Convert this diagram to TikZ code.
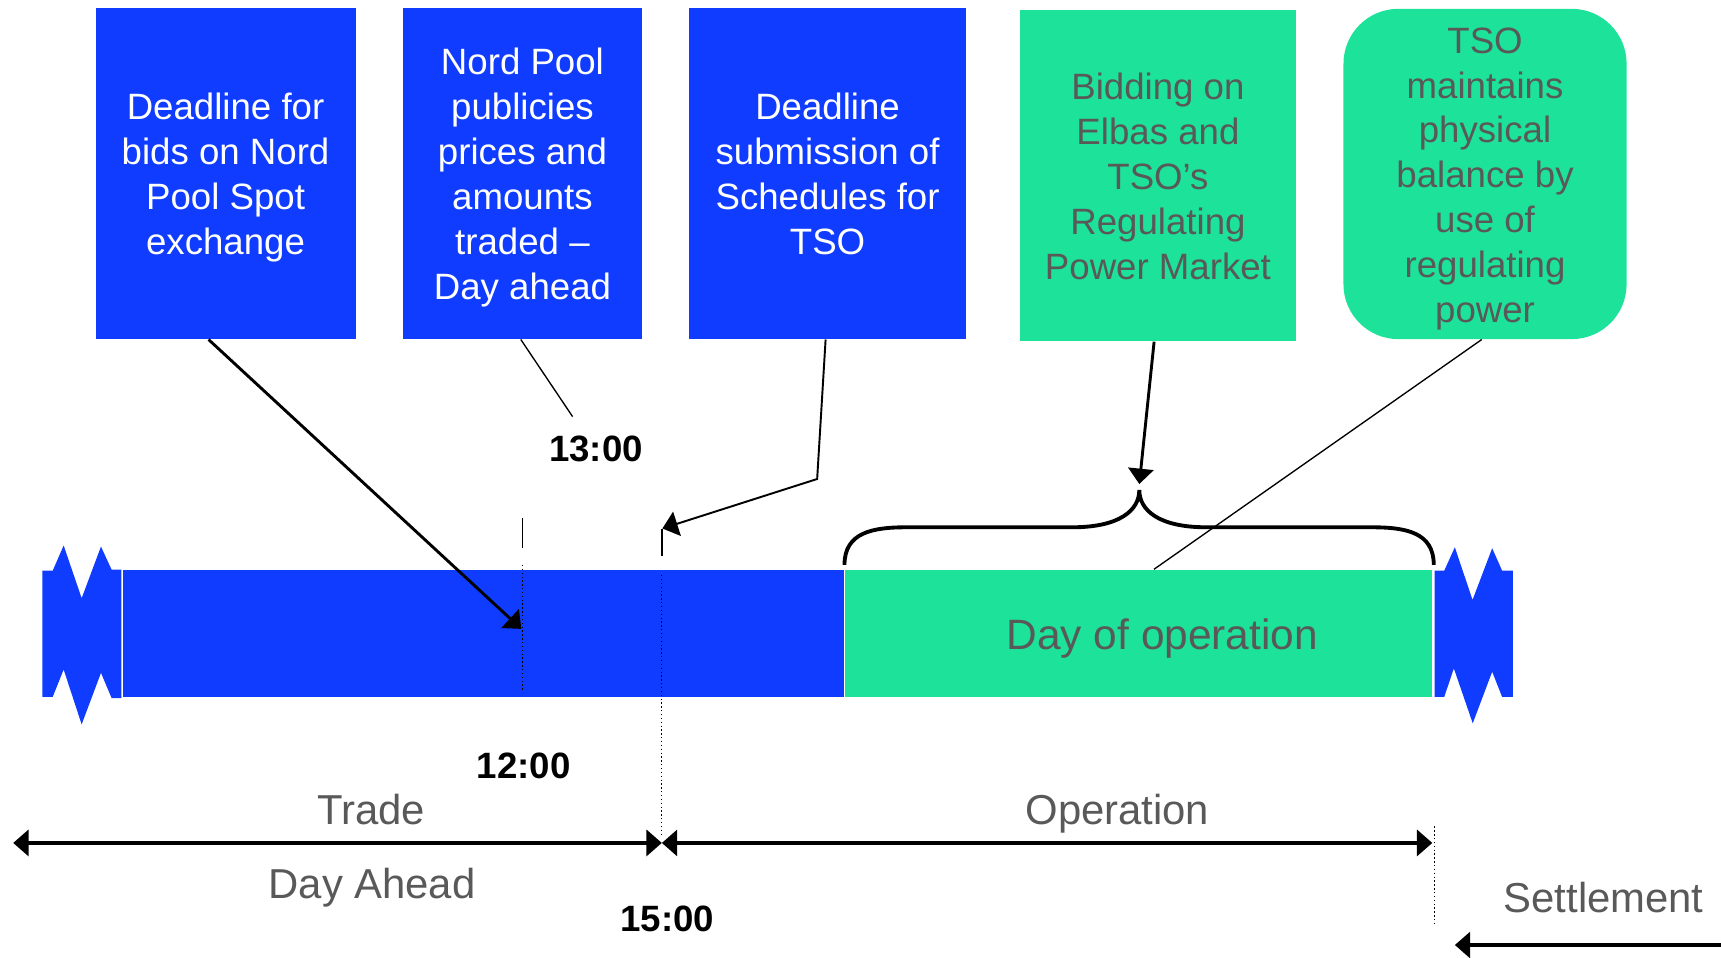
\documentclass[tikz,border=0pt]{standalone}
\usepackage{fontspec}
\setmainfont{Liberation Sans}
\usetikzlibrary{arrows.meta}
\definecolor{barblue}{HTML}{0F3CFF}
\definecolor{bargreen}{HTML}{1DE29A}
\definecolor{txtgray}{HTML}{595959}
\newcommand\mytopstrut{\rule{0pt}{21.4pt}}
\begin{document}
\begin{tikzpicture}[x=0.02cm,y=-0.02cm,
  boxtext/.style={font=\fontsize{19}{23.3}\selectfont, align=center, inner sep=0pt},
  bluebox/.style={boxtext, fill=barblue, text=white, minimum height=6.04cm},
  greenbox/.style={boxtext, fill=bargreen, text=txtgray, minimum height=6.04cm},
  barpiece/.style={inner sep=0pt, minimum height=2.32cm},
  thickarrow/.style={line width=1.5pt, -{Triangle[length=0.28cm,width=0.46cm]}},
  thinline/.style={line width=0.7pt},
  tickline/.style={line width=0.9pt},
  dotline/.style={line width=0.5pt, dash pattern=on 0.7pt off 1.3pt},
  timelabel/.style={font=\bfseries\fontsize{19}{22}\selectfont, inner sep=0pt},
  graylabel/.style={font=\fontsize{21.7}{26}\selectfont, text=txtgray, inner sep=0pt},
  spanarrow/.style={line width=2pt, {Triangle[length=0.28cm,width=0.47cm]}-{Triangle[length=0.28cm,width=0.47cm]}},
  settlearrow/.style={line width=2pt, -{Triangle[length=0.28cm,width=0.47cm]}},
  bracestyle/.style={line width=2pt}
]
\useasboundingbox (0,0) rectangle (1568,872);

% top boxes
\node[bluebox, minimum width=4.74cm] (b1) at (205.5,158) {\mytopstrut Deadline for\\bids on Nord\\Pool Spot\\exchange\strut};
\node[bluebox, minimum width=4.36cm] (b2) at (476,158) {\mytopstrut Nord Pool\\publicies\\prices and\\amounts\\traded –\\Day ahead\strut};
\node[bluebox, minimum width=5.04cm] (b3) at (754,158) {\mytopstrut Deadline\\submission of\\Schedules for\\TSO\strut};
\node[greenbox, minimum width=5.04cm] (b4) at (1055,160) {\mytopstrut Bidding on\\Elbas and\\TSO’s\\Regulating\\Power Market\strut};
\node[greenbox, minimum width=5.16cm, minimum height=6.02cm, rounded corners=1cm] (b5) at (1353,158.5) {\mytopstrut TSO\\maintains\\physical\\balance by\\use of\\regulating\\power\strut};

% time bar
\fill[barblue] (38.6,520) -- (48,520) -- (58,497) -- (74.4,545) -- (92,498) -- (101.7,519) -- (110.6,519) -- (110.6,636) -- (101.7,636) -- (92,613) -- (74.4,660) -- (58,610) -- (48,635) -- (38.6,635) -- cycle;
\node[barpiece, fill=barblue, minimum width=13.14cm] (dah) at (440.5,577) {};
\node[barpiece, fill=bargreen, minimum width=10.7cm] (dop) at (1037.5,577) {};
\fill[barblue] (1307,520) -- (1315.8,520) -- (1325.5,498.6) -- (1341.6,546.6) -- (1359.5,499.5) -- (1368.6,520) -- (1378.3,520) -- (1378.3,635) -- (1368.6,635) -- (1359.5,612) -- (1341.8,659) -- (1324.6,609) -- (1315.8,635) -- (1307,635) -- cycle;
\node[graylabel, font=\fontsize{22}{26}\selectfont] (dopt) at (1059,582) {Day of operation};

% time marks
\coordinate (m12a) at (476,472);
\coordinate (m12b) at (476,499.5);
\coordinate (m12c) at (476,514.7);
\coordinate (m12d) at (476,630);
\coordinate (t12) at (475,573);
\coordinate (m15a) at (603,482);
\coordinate (m15b) at (603,507);
\coordinate (m15c) at (603,524);
\coordinate (m15d) at (603,762);
\coordinate (bend3) at (744.5,436.4);
\coordinate (t15) at (603.5,481.5);
\coordinate (l13) at (521.7,379.6);
\coordinate (optip) at (1038,441);
\coordinate (bracetip) at (1038,446.4);

\draw[tickline] (m12a) -- (m12b);
\draw[dotline] (m12c) -- (m12d);
\draw[tickline] (m15a) -- (m15b);
\draw[dotline] (m15c) -- (m15d);

% connectors
\draw[thickarrow] ([xshift=-0.31cm]b1.south) -- (t12);
\draw[thinline] ([xshift=-0.03cm]b2.south) -- (l13);
\draw[line width=1pt, -{Triangle[length=0.28cm,width=0.46cm]}] ([xshift=-0.036cm]b3.south) -- (bend3) -- (t15);
\draw[thickarrow] ([xshift=-0.07cm]b4.south) -- (optip);
\draw[thinline] ([xshift=-0.06cm]b5.south) -- ([xshift=0.278cm]dop.north);

% brace
\draw[bracestyle] (769.4,514.7) .. controls (769.4,485) and (795,480.4) .. (826,480.4) -- (976.9,480.4)
  .. controls (1020,480.4) and (1038,465) .. (bracetip)
  .. controls (1038,465) and (1056,480.4) .. (1099,480.4) -- (1249.4,480.4)
  .. controls (1281,480.4) and (1306.3,485) .. (1306.3,514.7);

% time labels
\node[timelabel] (l13t) at (543,409) {13:00};
\node[timelabel] (l12t) at (477,698) {12:00};
\node[timelabel] (l15t) at (608,837) {15:00};

% bottom spans
\coordinate (tl) at (12,768);
\coordinate (tm) at (603,768);
\coordinate (tr) at (1305,768);
\draw[spanarrow] (tl) -- (tm);
\draw[spanarrow] (tm) -- (tr);
\draw[dotline] (1306.5,753) -- (1306.5,844);
\coordinate (sr) at (1568,861);
\coordinate (sl) at (1325.5,861);
\draw[settlearrow] (sr) -- (sl);

\node[graylabel] (trade) at (338,738) {Trade};
\node[graylabel] (dayahead) at (339,809) {Day Ahead};
\node[graylabel] (oper) at (1018,741) {Operation};
\node[graylabel] (settle) at (1461,818) {Settlement};
\end{tikzpicture}
\end{document}
